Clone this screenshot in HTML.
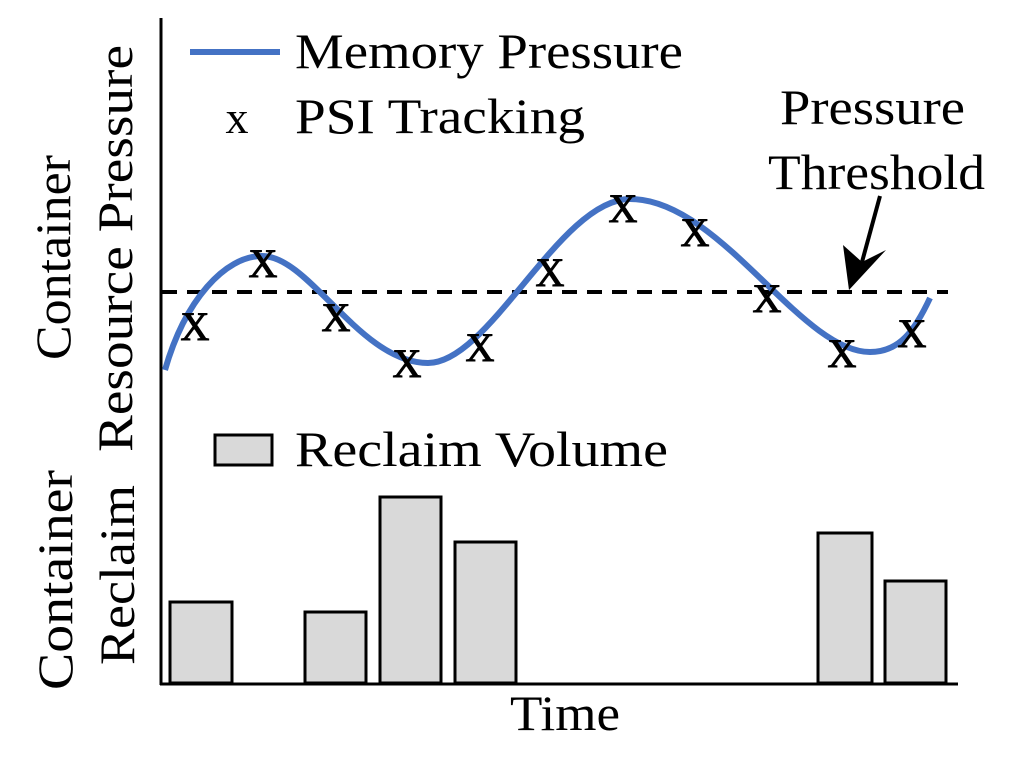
<!DOCTYPE html>
<html><head><style>body{margin:0;background:#fff}</style></head><body>
<svg width="1024" height="759" viewBox="0 0 1024 759" xmlns="http://www.w3.org/2000/svg" font-family="Liberation Serif, serif">
<g stroke="#000" stroke-width="3" fill="#d9d9d9">
<rect x="170" y="602" width="62" height="81"/>
<rect x="305" y="612" width="61" height="71"/>
<rect x="380" y="497" width="61" height="186"/>
<rect x="455" y="542" width="61" height="141"/>
<rect x="818" y="533" width="54" height="150"/>
<rect x="885" y="581" width="61" height="102"/>
</g>
<line x1="161" y1="18" x2="161" y2="685" stroke="#000" stroke-width="3"/>
<line x1="160" y1="684" x2="958" y2="684" stroke="#000" stroke-width="3"/>
<line x1="162" y1="292" x2="948" y2="292" stroke="#000" stroke-width="4" stroke-dasharray="15,10"/>
<path d="M165,370 C185,300 225,256 262,256 C310,256 360,363 428,363 C490,363 560,199 630,199 C720,199 800,352 870,352 C900,352 915,330 930,298" fill="none" stroke="#4472c4" stroke-width="6"/>
<g font-size="40" text-anchor="middle" fill="#000" stroke="#000" stroke-width="1">
<text x="195" y="340">X</text><text x="263" y="277">X</text><text x="336" y="331">X</text>
<text x="407" y="377">X</text><text x="480" y="361">X</text><text x="550" y="286">X</text>
<text x="623" y="222">X</text><text x="695" y="246">X</text><text x="767" y="312">X</text>
<text x="842" y="367">X</text><text x="912" y="347">X</text>
</g>
<line x1="190" y1="52" x2="280" y2="52" stroke="#4472c4" stroke-width="6"/>
<g font-size="50" fill="#000">
<text x="295" y="68" textLength="388" lengthAdjust="spacingAndGlyphs">Memory Pressure</text>
<text x="237" y="133" font-size="46" text-anchor="middle">x</text>
<text x="295" y="133" textLength="290" lengthAdjust="spacingAndGlyphs">PSI Tracking</text>
<text x="295" y="466" textLength="373" lengthAdjust="spacingAndGlyphs">Reclaim Volume</text>
<text x="780" y="124" textLength="185" lengthAdjust="spacingAndGlyphs">Pressure</text>
<text x="768" y="189" textLength="217" lengthAdjust="spacingAndGlyphs">Threshold</text>
<text x="510" y="730" textLength="110" lengthAdjust="spacingAndGlyphs">Time</text>
<text transform="translate(70,360) rotate(-90)" textLength="205" lengthAdjust="spacingAndGlyphs">Container</text>
<text transform="translate(132,452) rotate(-90)" textLength="407" lengthAdjust="spacingAndGlyphs">Resource Pressure</text>
<text transform="translate(72,690) rotate(-90)" textLength="220" lengthAdjust="spacingAndGlyphs">Container</text>
<text transform="translate(134,665) rotate(-90)" textLength="180" lengthAdjust="spacingAndGlyphs">Reclaim</text>
</g>
<rect x="215" y="435" width="57" height="30" fill="#d9d9d9" stroke="#000" stroke-width="3"/>
<line x1="880" y1="196" x2="862" y2="262" stroke="#000" stroke-width="4"/>
<polygon points="849,290 843,245 862,262 886,250" fill="#000"/>
</svg>
</body></html>
